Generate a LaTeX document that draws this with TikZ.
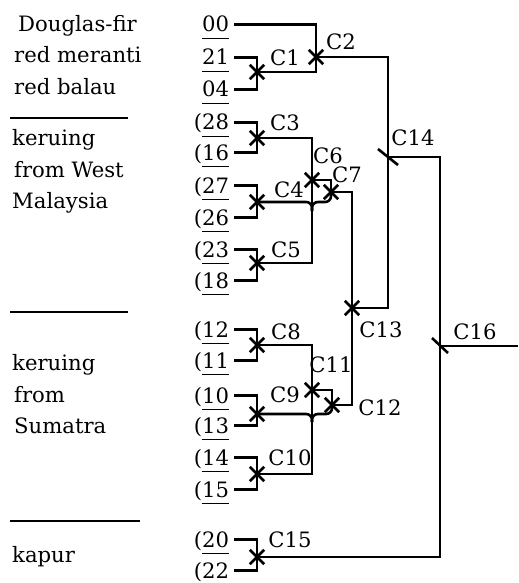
\documentclass[tikz,border=0pt]{standalone}
\usepackage{fontspec}
\setmainfont{DejaVu Serif}
\usetikzlibrary{shapes.misc}

\tikzset{
	trait/.style={line width=2.2pt},
	sepline/.style={line width=1.6pt},
	leaf/.style={anchor=base east,inner xsep=4pt,inner ysep=0pt,text height=18pt,text depth=5pt,font=\fontsize{18}{21}\selectfont},
	species/.style={anchor=base west,inner sep=0pt,font=\fontsize{18}{22}\selectfont},
	clabel/.style={inner sep=0pt,font=\fontsize{18}{21}\selectfont},
	joinmark/.style={draw,cross out,line width=2.2pt,minimum size=10pt,inner sep=0pt},
}

\begin{document}
\begin{tikzpicture}[x=0.85pt,y=-0.85pt]
		\useasboundingbox (0,0) rectangle (518,583);
		% groups of wood
		\node[species] (dfir) at (18,32) {Douglas-fir};
		\node[species] (rmer) at (14,63) {red meranti};
		\node[species] (rbal) at (14,95) {red balau};
		\draw[sepline] (10,118) -- (128,118);
		\node[species] (kerA) at (12,145) {keruing};
		\node[species] (fwest) at (14,177) {from West};
		\node[species] (malay) at (12,208) {Malaysia};
		\draw[sepline] (10,312) -- (128,312);
		\node[species] (kerB) at (12,370) {keruing};
		\node[species] (fsum) at (14,402) {from};
		\node[species] (sumat) at (14,433) {Sumatra};
		\draw[sepline] (10,521) -- (140,521);
		\node[species] (kapur) at (12,562) {kapur};
		% samples
		\foreach \num/\y in {00/32,21/65,04/97}
			\node[leaf] (n\num) at (234,\y) {\underline{\vphantom{g}\num}};
		\foreach \num/\y in {28/130,16/160,27/193,26/225,23/257,18/288,12/337,11/368,10/403,13/433,14/465,15/497,20/547,22/578}
			\node[leaf] (n\num) at (234,\y) {(\underline{\vphantom{g}\num}};
		% clusters
		\coordinate (c1) at (257,72);
		\coordinate (c2) at (316,57);
		\coordinate (c3) at (257,138);
		\coordinate (c4) at (257,202);
		\coordinate (c5) at (257,263);
		\coordinate (c6) at (312,180);
		\coordinate (c7) at (331,192);
		\coordinate (c8) at (257,345);
		\coordinate (c9) at (257,414);
		\coordinate (c10) at (257,474);
		\coordinate (c11) at (312,390);
		\coordinate (c12) at (332,405);
		\coordinate (c13) at (352,308);
		\coordinate (c14) at (388,157);
		\coordinate (c15) at (257,557);
		\coordinate (c16) at (440,346);
		\coordinate (j1) at (312,211);
		\coordinate (j1t) at (312,202);
		\coordinate (j2) at (312,422);
		\coordinate (j2t) at (312,414);
		\coordinate (out) at (518,346);
		\draw[trait] (n21.east) -| (c1) |- (n04.east);
		\draw[trait] (n00.east) -| (c2);
		\draw[trait] (c1) -| (c2);
		\draw[trait] (n28.east) -| (c3) |- (n16.east);
		\draw[trait] (n27.east) -| (c4) |- (n26.east);
		\draw[trait] (n23.east) -| (c5) |- (n18.east);
		\draw[trait] (c3) -| (c6);
		\draw[trait] (c5) -| (c6);
		\draw[trait] (c6) -| (c7);
		\draw[trait,rounded corners=5pt] (c4) -- (j1t) -- (j1);
		\draw[trait,rounded corners=5pt] (c7) |- (j1t) -- (j1);
		\draw[trait] (n12.east) -| (c8) |- (n11.east);
		\draw[trait] (n10.east) -| (c9) |- (n13.east);
		\draw[trait] (n14.east) -| (c10) |- (n15.east);
		\draw[trait] (c8) -| (c11);
		\draw[trait] (c10) -| (c11);
		\draw[trait] (c11) -| (c12);
		\draw[trait,rounded corners=5pt] (c9) -- (j2t) -- (j2);
		\draw[trait,rounded corners=5pt] (c12) |- (j2t) -- (j2);
		\draw[trait] (c7) -| (c13);
		\draw[trait] (c12) -| (c13);
		\draw[trait] (c2) -| (c14);
		\draw[trait] (c13) -| (c14);
		\draw[trait] (n20.east) -| (c15) |- (n22.east);
		\draw[trait] (c14) -| (c16);
		\draw[trait] (c15) -| (c16);
		\draw[trait] (c16) -- (out);
		% marks
		\foreach \c in {1,...,13,15}
			\node[joinmark] (m\c) at (c\c) {};
		\draw[trait] (c14) ++(-10,-8) -- ++(20,16);
		\draw[trait] (c16) ++(-8,-8) -- ++(16,15);
		% labels
		\foreach \c/\x/\y in {1/285/58,2/341/42,3/285/123,4/289/190,5/286/250,6/328/156,7/347/175,8/286/332,9/285/395,10/290/458,11/331/365,12/380/408,13/381/330,14/413/138,15/290/540,16/475/332}
			\node[clabel] (lc\c) at (\x,\y) {C\c};
	\end{tikzpicture}
\end{document}
